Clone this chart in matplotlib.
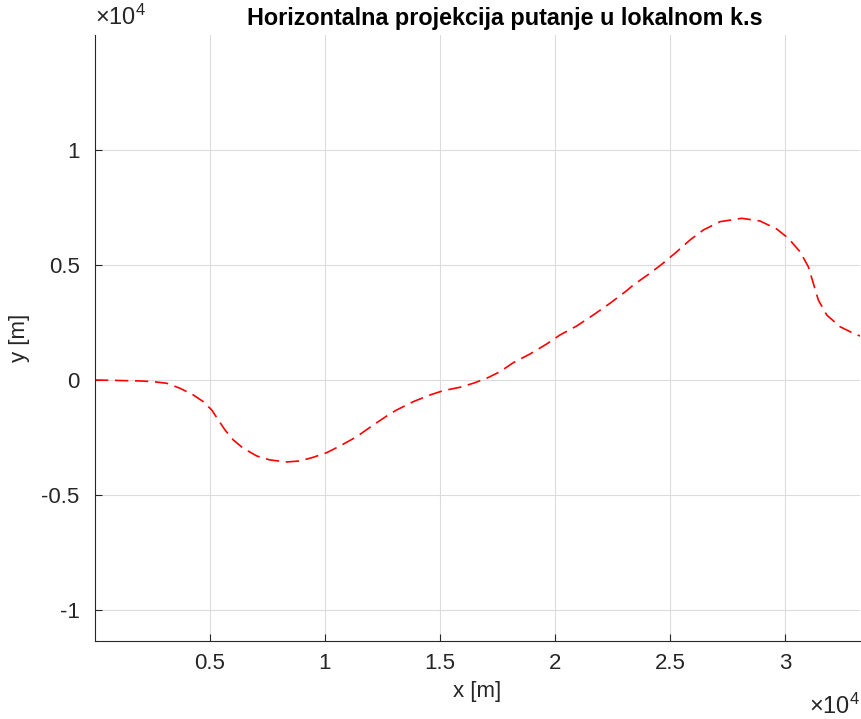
import numpy as np
import matplotlib
matplotlib.use("Agg")
import matplotlib.pyplot as plt
from matplotlib.ticker import FuncFormatter

# ------------------------------------------------
#  Podaci (ocitano sa slike), u metrima
# ------------------------------------------------

x_m = [0, 1957, 2535, 3117, 3696, 4274, 4709, 5074, 5361, 5652, 6013, 6448,
       7030, 7609, 8335, 8913, 9491, 10074, 10652, 11378, 12100, 12752,
       13117, 13839, 14565, 15143, 15870, 16448, 17030, 17609, 18187, 18913,
       19639, 20217, 20943, 21665, 22391, 23117, 23404, 24130, 24639, 25217,
       25870, 26448, 27174, 28117, 28913, 29639, 30143, 30652, 31013, 31230,
       31448, 31813, 32391, 32970, 33261]
y_m = [0, -43, -74, -143, -361, -652, -943, -1304, -1739, -2174, -2609, -2970,
       -3304, -3478, -3565, -3522, -3361, -3161, -2870, -2465, -1957, -1522,
       -1304, -943, -652, -465, -317, -143, 74, 361, 752, 1130,
       1565, 1957, 2348, 2826, 3335, 3883, 4130, 4639, 5030, 5509,
       6087, 6522, 6883, 7030, 6913, 6565, 6161, 5578, 4926, 4204,
       3478, 2826, 2317, 2030, 1913]

x_ticks = [5000, 10000, 15000, 20000, 25000, 30000]
y_ticks = [-10000, -5000, 0, 5000, 10000]

# ------------------------------------------------
#  Stil
# ------------------------------------------------

plt.rcParams['font.family'] = ['Liberation Sans', 'DejaVu Sans']
plt.rcParams['mathtext.fontset'] = 'custom'
plt.rcParams['mathtext.rm'] = 'Liberation Sans'
plt.rcParams['mathtext.it'] = 'Liberation Sans'

AX_COLOR = "#262626"

fig = plt.figure(figsize=(8.62, 7.19), dpi=100)
ax = fig.add_axes([0.1102, 0.1085, 0.8875, 0.8428])

ax.plot(x_m, y_m, color="red", linestyle="--", linewidth=1.2, dashes=(8, 4))

ax.set_xlim(0, 33261)
ax.set_ylim(-11350, 15000)

ax.set_xticks(x_ticks)
ax.set_yticks(y_ticks)
fmt = FuncFormatter(lambda v, p: f"{v / 1e4:g}")
ax.xaxis.set_major_formatter(fmt)
ax.yaxis.set_major_formatter(fmt)

ax.tick_params(direction="in", length=5, width=0.8, colors=AX_COLOR,
               labelsize=16)
ax.tick_params(axis="y", pad=11)
ax.tick_params(axis="x", pad=9)
for side in ["top", "right"]:
    ax.spines[side].set_visible(False)
for side in ["left", "bottom"]:
    ax.spines[side].set_color(AX_COLOR)
    ax.spines[side].set_linewidth(0.8)

ax.grid(True, color="#dcdcdc", linewidth=0.8)
ax.set_axisbelow(True)

ax.set_title("Horizontalna projekcija putanje u lokalnom k.s",
             fontsize=16.8, fontweight="bold", pad=7, x=0.536)
ax.set_xlabel("x [m]", fontsize=16, color=AX_COLOR, labelpad=5)
ax.set_ylabel("y [m]", fontsize=16, color=AX_COLOR, labelpad=8)

ax.text(0, 1.008, r"$\times10^{4}$", transform=ax.transAxes,
        ha="left", va="bottom", fontsize=17, color=AX_COLOR)
ax.text(1.0, -0.087, r"$\times10^{4}$", transform=ax.transAxes,
        ha="right", va="top", fontsize=17, color=AX_COLOR)

fig.savefig("out.png", dpi=100)
